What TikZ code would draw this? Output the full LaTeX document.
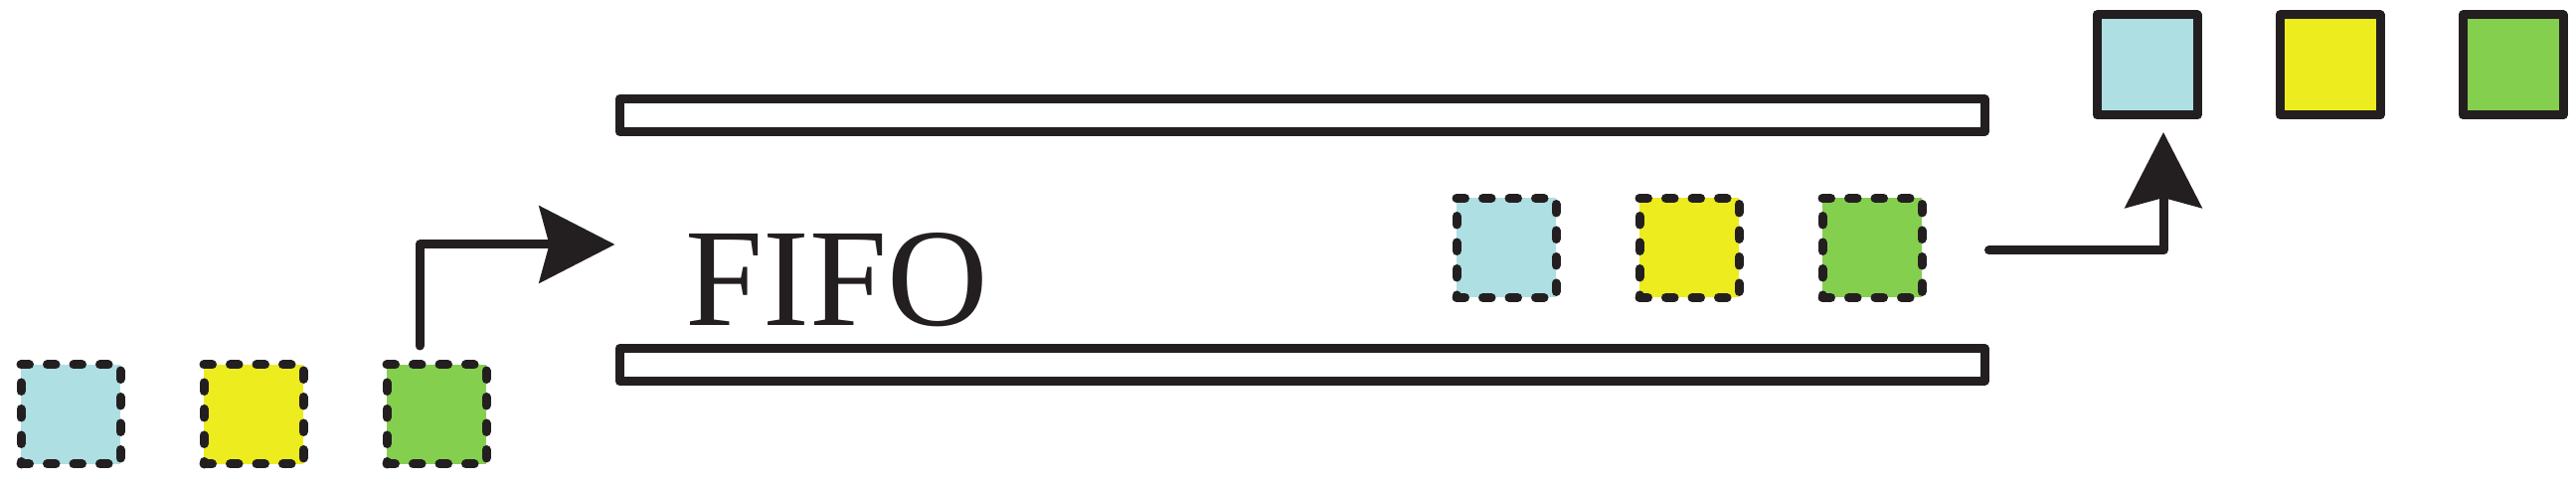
\documentclass[tikz,border=0pt]{standalone}
\usepackage{fontspec}
\setmainfont{Liberation Serif}
\usetikzlibrary{arrows.meta}
\definecolor{cblue}{HTML}{AEDFE3}
\definecolor{cyellow}{HTML}{ECEC1E}
\definecolor{cgreen}{HTML}{85CF4F}
\definecolor{ink}{HTML}{231F20}

\begin{document}
\begin{tikzpicture}[line width=0.09cm, line join=round,
    flow/.style={draw=ink,line cap=round,-{Stealth[length=7.6mm,width=7.7mm,inset=1mm]}}]
\useasboundingbox (0,0) rectangle (25.91,4.89);
% packets waiting / inside the queue
\begin{scope}[every node/.style={rectangle,draw=ink,minimum size=1cm,inner sep=0pt,
              dash pattern=on 0.085cm off 0.18cm,line cap=round}]
    \node[fill=cblue]   (in1) at (0.71,0.72) {};
    \node[fill=cyellow] (in2) at (2.55,0.72) {};
    \node[fill=cgreen]  (in3) at (4.39,0.72) {};
    \node[fill=cblue]   (q1) at (15.15,2.395) {};
    \node[fill=cyellow] (q2) at (16.99,2.395) {};
    \node[fill=cgreen]  (q3) at (18.83,2.395) {};
\end{scope}
% packets that left
\begin{scope}[every node/.style={rectangle,draw=ink,minimum size=1.01cm,inner sep=0pt}]
    \node[fill=cblue]   (out1) at (21.595,4.235) {};
    \node[fill=cyellow] (out2) at (23.435,4.235) {};
    \node[fill=cgreen]  (out3) at (25.275,4.235) {};
\end{scope}
% walls of the queue
\begin{scope}[every node/.style={rectangle,draw=ink,minimum width=13.73cm,minimum height=0.33cm,inner sep=0pt}]
    \node (wtop) at (13.095,3.73) {};
    \node (wbot) at (13.095,1.22) {};
\end{scope}
\node[font=\fontsize{40}{40}\selectfont,text=ink,anchor=base] (fifo) at (8.42,1.61) {FIFO};
\coordinate (s1) at (4.22,1.41);
\coordinate (e1) at (wtop.west |- 0,2.43);
\coordinate (s2) at (wtop.east |- 0,2.37);
\coordinate (e2) at (21.76,3.56);
\draw[flow] (s1) |- (e1);
\draw[flow] (s2) -| (e2);
\end{tikzpicture}
\end{document}
